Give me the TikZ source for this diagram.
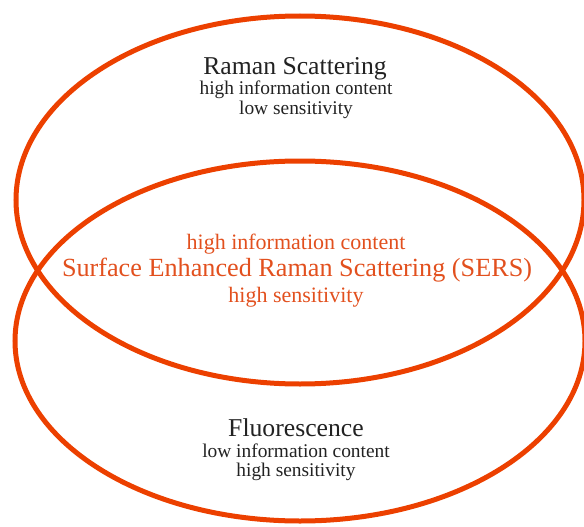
\documentclass[tikz,border=0pt]{standalone}
\usepackage{fontspec}
\setmainfont{Liberation Serif}
\definecolor{ring}{RGB}{236,64,0}
\definecolor{serstext}{RGB}{226,80,30}
\definecolor{graytext}{RGB}{34,34,34}
\tikzset{
  ringline/.style={draw=ring, line width=5pt},
  bigtext/.style={anchor=base, inner sep=0pt, font=\fontsize{25.7}{25.7}\selectfont, text=graytext},
  smalltext/.style={anchor=base, inner sep=0pt, font=\fontsize{19.4}{19.4}\selectfont, text=graytext},
  sersbig/.style={anchor=base, inner sep=0pt, font=\fontsize{26.2}{26.2}\selectfont, text=serstext},
  sersmall/.style={anchor=base, inner sep=0pt, font=\fontsize{22}{22}\selectfont, text=serstext},
}
\begin{document}
\begin{tikzpicture}[x=1pt,y=-1pt]
\useasboundingbox (0,0) rectangle (584,527);
\draw[ringline] (300,200) ellipse [x radius=284, y radius=184];
\draw[ringline] (300,341) ellipse [x radius=285, y radius=180];
\node[bigtext] (ramant) at (295,75) {Raman Scattering};
\node[smalltext] (ramana) at (296,95) {high information content};
\node[smalltext] (ramanb) at (296,114) {low sensitivity};
\node[sersmall] (sersa) at (296,249) {high information content};
\node[sersbig] (serst) at (297,276) {Surface Enhanced Raman Scattering (SERS)};
\node[sersmall] (sersb) at (296,302) {high sensitivity};
\node[bigtext] (fluot) at (296,436) {Fluorescence};
\node[smalltext] (fluoa) at (296,457) {low information content};
\node[smalltext] (fluob) at (296,476) {high sensitivity};
\end{tikzpicture}
\end{document}
